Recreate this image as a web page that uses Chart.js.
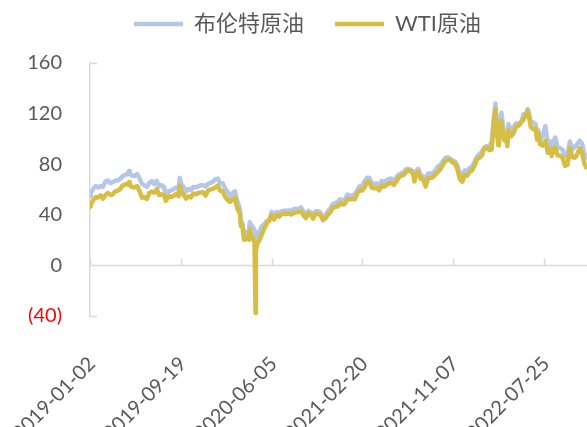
<!DOCTYPE html>
<html>
<head>
<meta charset="utf-8">
<script src="https://cdn.jsdelivr.net/npm/chart.js@4.4.1/dist/chart.umd.min.js"></script>
<style>
html,body{margin:0;padding:0;background:#fff;}
#wrap{width:587px;height:427px;}
</style>
</head>
<body>
<div id="wrap"><canvas id="c" width="587" height="427"></canvas></div>
<script>
// ---- data ----
const seriesNames = ['布伦特原油', 'WTI原油'];
const tickLabels = ['2019-01-02','2019-09-19','2020-06-05','2021-02-20','2021-11-07','2022-07-25'];
const xEndDate = '2022-11-25';
const yTicks = [-40, 0, 40, 80, 120, 160];

const dates = [
'2019-01-02','2019-01-04','2019-01-11','2019-01-18','2019-01-25','2019-02-01','2019-02-08','2019-02-15','2019-02-22','2019-03-01',
'2019-03-08','2019-03-15','2019-03-22','2019-03-29','2019-04-05','2019-04-12','2019-04-18','2019-04-24','2019-04-26','2019-05-03',
'2019-05-10','2019-05-17','2019-05-24','2019-05-31','2019-06-07','2019-06-14','2019-06-21','2019-06-28','2019-07-05','2019-07-12',
'2019-07-19','2019-07-26','2019-08-02','2019-08-07','2019-08-16','2019-08-23','2019-08-30','2019-09-06','2019-09-13','2019-09-16',
'2019-09-20','2019-09-27','2019-10-04','2019-10-11','2019-10-18','2019-10-25','2019-11-01','2019-11-08','2019-11-15','2019-11-22',
'2019-11-29','2019-12-06','2019-12-13','2019-12-20','2019-12-27','2020-01-03','2020-01-10','2020-01-17','2020-01-24','2020-01-31',
'2020-02-07','2020-02-14','2020-02-21','2020-02-28','2020-03-06','2020-03-09','2020-03-13','2020-03-18','2020-03-20','2020-03-27',
'2020-04-01','2020-04-03','2020-04-09','2020-04-17','2020-04-20','2020-04-21','2020-04-24','2020-05-01','2020-05-08','2020-05-15',
'2020-05-22','2020-05-29','2020-06-05','2020-06-12','2020-06-19','2020-06-26','2020-07-03','2020-07-10','2020-07-17','2020-07-24',
'2020-07-31','2020-08-07','2020-08-14','2020-08-21','2020-08-28','2020-09-04','2020-09-11','2020-09-18','2020-09-25','2020-10-02',
'2020-10-09','2020-10-16','2020-10-23','2020-10-30','2020-11-06','2020-11-13','2020-11-20','2020-11-27','2020-12-04','2020-12-11',
'2020-12-18','2020-12-24','2020-12-31','2021-01-08','2021-01-15','2021-01-22','2021-01-29','2021-02-05','2021-02-12','2021-02-19',
'2021-02-26','2021-03-05','2021-03-12','2021-03-19','2021-03-26','2021-04-01','2021-04-09','2021-04-16','2021-04-23','2021-04-30',
'2021-05-07','2021-05-14','2021-05-21','2021-05-28','2021-06-04','2021-06-11','2021-06-18','2021-06-25','2021-07-02','2021-07-09',
'2021-07-16','2021-07-19','2021-07-23','2021-07-30','2021-08-06','2021-08-13','2021-08-20','2021-08-27','2021-09-03','2021-09-10',
'2021-09-17','2021-09-24','2021-10-01','2021-10-08','2021-10-15','2021-10-22','2021-10-29','2021-11-05','2021-11-12','2021-11-19',
'2021-11-26','2021-12-03','2021-12-10','2021-12-17','2021-12-23','2021-12-31','2022-01-07','2022-01-14','2022-01-21','2022-01-28',
'2022-02-04','2022-02-11','2022-02-18','2022-02-25','2022-03-04','2022-03-08','2022-03-11','2022-03-16','2022-03-18','2022-03-25',
'2022-04-01','2022-04-08','2022-04-11','2022-04-14','2022-04-22','2022-04-29','2022-05-06','2022-05-13','2022-05-20','2022-05-27',
'2022-06-03','2022-06-08','2022-06-10','2022-06-17','2022-06-24','2022-07-01','2022-07-05','2022-07-08','2022-07-14','2022-07-22',
'2022-07-29','2022-08-05','2022-08-12','2022-08-16','2022-08-19','2022-08-26','2022-09-02','2022-09-09','2022-09-16','2022-09-23',
'2022-09-30','2022-10-07','2022-10-14','2022-10-21','2022-10-28','2022-11-04','2022-11-11','2022-11-18','2022-11-25','2022-11-28'
];

const brent = [
54.91,57.06,60.48,62.70,61.64,62.75,62.10,66.25,67.12,65.07,
65.74,67.16,67.03,68.39,70.34,71.55,71.97,74.57,72.15,70.85,
70.62,72.21,68.69,64.49,63.29,62.01,65.20,66.55,64.23,66.72,
62.47,63.46,61.89,56.23,58.64,59.34,60.43,61.54,60.22,69.02,
64.28,61.91,58.37,60.51,59.42,62.02,61.69,62.51,63.30,63.39,
62.43,64.39,65.22,66.14,68.16,68.60,64.98,64.85,60.69,58.16,
54.47,57.32,58.50,50.52,45.27,34.36,33.85,24.88,26.98,24.93,
24.74,34.11,31.48,28.08,25.57,19.33,21.44,26.44,30.97,32.50,
35.13,35.33,42.30,38.73,42.19,41.02,42.80,43.24,43.14,43.34,
43.30,44.40,44.80,44.35,45.81,42.66,39.83,43.15,41.92,39.27,
42.85,42.93,41.77,37.46,39.45,42.78,44.96,48.18,49.25,49.97,
52.26,51.29,51.80,55.99,55.10,55.41,55.88,59.34,62.43,62.91,
66.13,69.36,69.22,64.53,64.57,64.86,62.95,66.77,66.11,67.25,
68.28,68.71,66.44,69.63,71.89,72.69,73.51,76.18,76.17,75.55,
73.59,68.62,74.10,76.33,70.70,70.59,65.18,72.70,72.61,72.92,
75.34,78.09,79.28,82.39,84.86,85.53,84.38,82.74,82.17,78.89,
72.72,69.88,75.15,73.52,76.85,77.78,81.75,86.06,87.89,90.03,
93.27,94.44,93.54,97.93,118.11,127.98,112.67,98.02,107.93,120.65,
104.39,102.78,98.48,111.70,106.65,109.34,112.39,111.55,112.55,119.43,
119.72,123.58,122.01,113.12,113.12,111.63,102.77,107.02,99.10,103.20,
110.01,94.92,98.15,92.34,96.72,100.99,93.02,92.84,91.35,86.15,
87.96,97.92,91.63,93.50,95.77,98.57,95.99,87.62,83.63,83.19
];

const wti = [
46.54,47.96,51.59,53.80,53.69,55.26,52.72,55.59,57.26,55.80,
56.07,58.52,59.04,60.14,63.08,63.89,64.00,65.89,63.30,61.94,
61.66,62.76,58.63,53.50,54.00,52.51,57.43,58.47,57.51,60.21,
55.63,56.20,55.66,51.09,54.87,54.17,55.10,56.52,54.85,62.90,
58.09,55.91,52.81,54.70,53.78,56.66,56.20,57.24,57.72,57.77,
55.17,59.20,60.07,60.44,61.72,63.05,59.04,58.54,54.19,51.56,
50.32,52.05,53.38,44.76,41.28,31.13,31.73,20.37,22.43,21.51,
20.31,28.34,22.76,18.27,-37.63,10.01,16.94,19.78,24.74,29.43,
33.25,35.49,39.55,36.26,39.75,38.49,40.65,40.55,40.59,41.29,
40.27,41.22,42.01,42.34,42.97,39.77,37.33,41.11,40.25,37.05,
40.60,40.88,39.85,35.79,37.14,40.13,42.15,45.53,46.26,46.57,
49.10,48.23,48.52,52.24,52.36,52.27,52.20,56.85,59.47,59.24,
61.50,66.09,65.61,61.42,60.97,61.45,59.32,63.13,62.14,63.58,
64.90,65.37,63.58,66.32,69.62,70.91,71.64,74.05,75.16,74.56,
71.81,66.42,72.07,73.95,68.28,68.44,62.32,68.74,69.29,69.72,
71.97,73.98,75.88,79.35,82.28,83.76,83.57,81.27,80.79,76.10,
68.15,66.26,71.67,70.86,73.79,75.21,78.90,83.82,85.14,86.82,
92.31,93.10,91.07,91.59,115.68,123.70,109.33,95.04,104.70,113.90,
99.27,98.26,94.29,106.95,102.07,104.69,109.77,110.49,113.23,115.07,
118.87,122.11,120.67,109.56,107.62,108.43,99.50,104.79,95.78,94.70,
98.62,89.01,92.09,86.53,90.77,93.06,86.87,86.79,85.11,78.74,
79.49,92.64,85.61,85.05,87.90,92.61,88.96,80.08,76.28,77.24
];

// ---- helpers ----
const DAY = 86400000;
const t0 = Date.parse(dates[0]);
const toDay = s => (Date.parse(s) - t0) / DAY;
const xDays = dates.map(toDay);
const tickDays = tickLabels.map(toDay);

const GRAY = '#595959';
const AXIS = '#D9D9D9';
const BLUE = '#B4C7E7';
const GOLD = '#D8BD45';

const axisDecor = {
  id: 'axisDecor',
  beforeDatasetsDraw(chart) {
    const {ctx, chartArea, scales: {x, y}} = chart;
    const y0 = Math.round(y.getPixelForValue(0)) + 0.5;
    ctx.save();
    ctx.strokeStyle = AXIS;
    ctx.lineWidth = 1.5;
    ctx.beginPath();
    ctx.moveTo(chartArea.left, y0);
    ctx.lineTo(chartArea.right, y0);
    x.ticks.forEach(t => {
      const px = Math.round(x.getPixelForValue(t.value)) + 0.5;
      ctx.moveTo(px, y0);
      ctx.lineTo(px, y0 - 7);
    });
    [y.min, y.max].forEach(v => {
      const py = Math.round(y.getPixelForValue(v)) + 0.5;
      ctx.moveTo(chartArea.left, py);
      ctx.lineTo(chartArea.left + 7, py);
    });
    ctx.stroke();
    ctx.restore();
  }
};

const legendShift = {
  id: 'legendShift',
  afterLayout(chart) {
    const lg = chart.legend;
    if (!lg) return;
    lg.top -= 18; lg.bottom -= 18;
    lg.left += 14; lg.right += 14;
  }
};

new Chart(document.getElementById('c'), {
  type: 'line',
  data: {
    datasets: [
      {
        label: seriesNames[0],
        data: xDays.map((d, i) => ({x: d, y: brent[i]})),
        borderColor: BLUE, backgroundColor: BLUE,
        borderWidth: 4.5, pointRadius: 0, tension: 0,
        borderJoinStyle: 'round', order: 1
      },
      {
        label: seriesNames[1],
        data: xDays.map((d, i) => ({x: d, y: wti[i]})),
        borderColor: GOLD, backgroundColor: GOLD,
        borderWidth: 4.5, pointRadius: 0, tension: 0,
        borderJoinStyle: 'round', order: 0
      }
    ]
  },
  options: {
    responsive: false,
    animation: false,
    events: [],
    layout: {padding: 0},
    plugins: {
      tooltip: {enabled: false},
      legend: {
        display: true,
        position: 'top',
        align: 'center',
        labels: {
          usePointStyle: true,
          pointStyle: 'line',
          pointStyleWidth: 49,
          padding: 31,
          color: GRAY,
          font: {family: "Lato, 'Noto Sans CJK SC', sans-serif", size: 22},
          sort: (a, b) => a.datasetIndex - b.datasetIndex
        }
      }
    },
    scales: {
      x: {
        type: 'linear',
        position: 'bottom',
        min: 0,
        max: toDay(xEndDate),
        grid: {display: false, drawTicks: false},
        border: {display: false},
        afterBuildTicks: s => { s.ticks = tickDays.map(v => ({value: v})); },
        afterFit: s => { s.height = 111; s.paddingLeft = 0; s.paddingRight = 0; },
        ticks: {
          autoSkip: false,
          minRotation: 45,
          maxRotation: 45,
          padding: 36,
          labelOffset: 2,
          color: GRAY,
          font: {family: 'Lato, sans-serif', size: 20},
          callback: (v, i) => tickLabels[i]
        }
      },
      y: {
        type: 'linear',
        position: 'left',
        min: yTicks[0],
        max: yTicks[yTicks.length - 1],
        grid: {display: false, drawTicks: false},
        border: {display: true, color: AXIS, width: 1.5},
        afterBuildTicks: s => { s.ticks = yTicks.map(v => ({value: v})); },
        afterFit: s => { s.width = 90; },
        ticks: {
          padding: 28,
          color: c => (c.tick && c.tick.value < 0) ? '#FF0000' : GRAY,
          font: {family: 'Lato, sans-serif', size: 20},
          callback: v => v < 0 ? '(' + Math.abs(v) + ')' : String(v)
        }
      }
    }
  },
  plugins: [axisDecor, legendShift]
});
</script>
</body>
</html>
